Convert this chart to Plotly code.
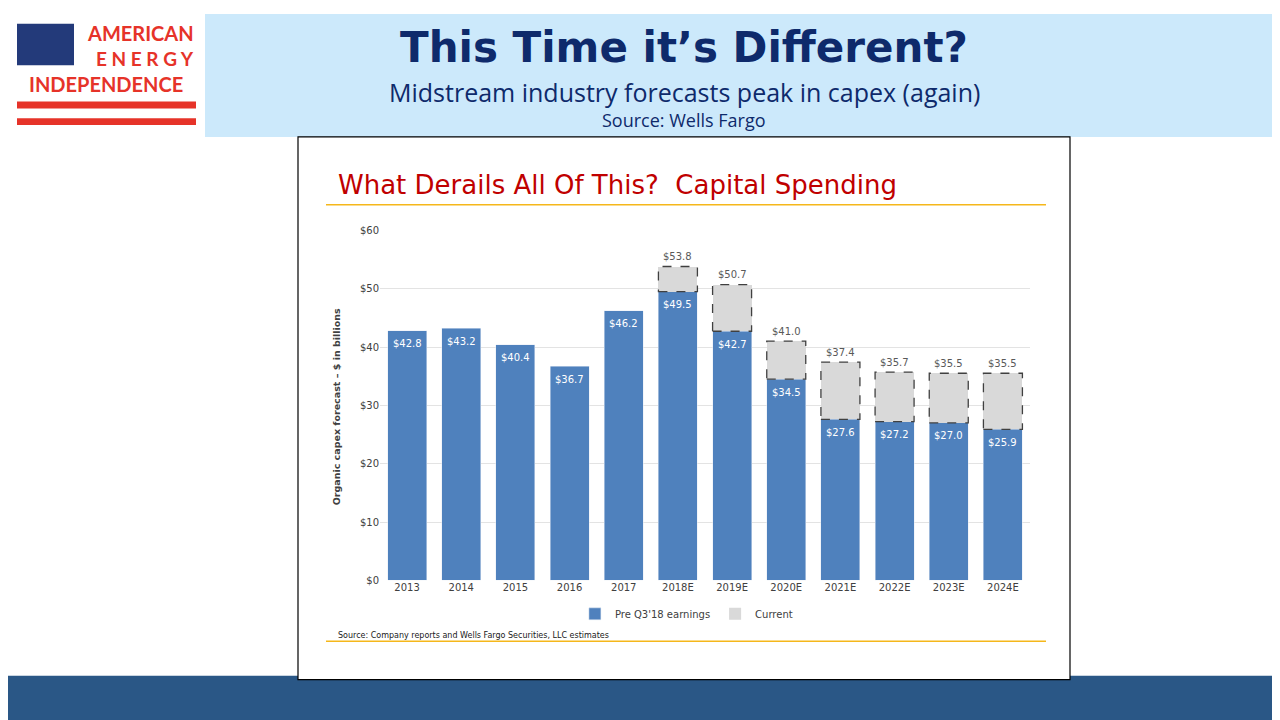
import plotly.graph_objects as go

years = ["2013", "2014", "2015", "2016", "2017", "2018E", "2019E", "2020E",
         "2021E", "2022E", "2023E", "2024E"]
pre_q3 = [42.8, 43.2, 40.4, 36.7, 46.2, 49.5, 42.7, 34.5, 27.6, 27.2, 27.0, 25.9]
current = [None, None, None, None, None, 53.8, 50.7, 41.0, 37.4, 35.7, 35.5, 35.5]
y_ticks = [0, 10, 20, 30, 40, 50, 60]

W, H = 1280, 720
def px(x): return x / W
def py(y): return 1 - y / H

idx = list(range(len(years)))
extra = [(c - p) if c is not None else 0 for c, p in zip(current, pre_q3)]
blue = "#4F81BD"

fig = go.Figure()
fig.add_trace(go.Bar(
    x=idx, y=pre_q3, name="Pre Q3'18 earnings", marker_color=blue, width=0.72, hoverinfo="y"))
fig.add_trace(go.Bar(
    x=idx, y=extra, name="Current", marker_color="#D9D9D9", width=0.72,
    marker_line_width=0, hoverinfo="skip"))
for i, v in enumerate(pre_q3):
    fig.add_annotation(x=i, y=v, yshift=-13, text="$%.1f" % v, showarrow=False,
                       font=dict(color="white", size=10, family="Verdana, DejaVu Sans"))
for i, (c, p) in enumerate(zip(current, pre_q3)):
    if c is None:
        continue
    fig.add_shape(type="rect", xref="x", yref="y", x0=i - 0.36, x1=i + 0.36, y0=p, y1=c,
                  line=dict(color="#404040", width=1.3, dash="dash"))
    fig.add_annotation(x=i, y=c, yshift=10, text="$%.1f" % c, showarrow=False,
                       font=dict(color="#595959", size=10, family="Verdana, DejaVu Sans"))

fig.update_layout(
    width=W, height=H, margin=dict(l=0, r=0, t=0, b=0), barmode="stack",
    paper_bgcolor="white", plot_bgcolor="rgba(0,0,0,0)",
    xaxis=dict(domain=[px(372), px(1022)], tickvals=idx, ticktext=years, range=[-0.5, 11.5],
               tickfont=dict(size=10, color="#404040", family="Verdana, DejaVu Sans"),
               showgrid=False, zeroline=False, showline=False, fixedrange=True),
    yaxis=dict(domain=[py(576), py(220)], range=[0, 60], tickvals=y_ticks,
               ticktext=["$%d" % v for v in y_ticks], gridcolor="#E3E3E3",
               tickfont=dict(size=10, color="#404040", family="Verdana, DejaVu Sans"),
               zeroline=False, showline=False, fixedrange=True),
    legend=dict(orientation="h", x=0.53, xanchor="center", y=py(610), yanchor="middle",
                traceorder="normal",
                font=dict(size=10, color="#404040", family="Verdana, DejaVu Sans"),
                bgcolor="rgba(0,0,0,0)"),
    showlegend=True,
)

shapes = [
    dict(type="rect", x0=px(197), x1=1, y0=py(125), y1=1, fillcolor="#CCE9FB", line_width=0, layer="below"),
    dict(type="rect", x0=0, x1=1, y0=0, y1=py(673), fillcolor="#2A5786", line_width=0, layer="below"),
    dict(type="rect", x0=px(290), x1=px(1062), y0=py(677), y1=py(125), fillcolor="white",
         line=dict(color="black", width=1.2), layer="below"),
    dict(type="line", x0=px(318), x1=px(1038), y0=py(194), y1=py(194), line=dict(color="#F5B71B", width=1.5)),
    dict(type="line", x0=px(318), x1=px(1038), y0=py(638), y1=py(638), line=dict(color="#F5B71B", width=1.5)),
    dict(type="rect", x0=px(9), x1=px(66), y0=py(52), y1=py(10), fillcolor="#233A7A", line_width=0),
    dict(type="rect", x0=px(9), x1=px(188), y0=py(96), y1=py(89), fillcolor="#E63329", line_width=0),
    dict(type="rect", x0=px(9), x1=px(188), y0=py(113), y1=py(106), fillcolor="#E63329", line_width=0),
]
for s in shapes:
    s.setdefault("xref", "paper")
    s.setdefault("yref", "paper")
    fig.add_shape(**s)

# stars on flag
star_x, star_y = [], []
for r in range(7):
    for c in range(8 if r % 2 == 0 else 7):
        star_x.append(px(13 + c * 7 + (3.5 if r % 2 else 0)))
        star_y.append(py(14 + r * 5.5))
fig.add_trace(go.Scatter(x=star_x, y=star_y, xaxis="x2", yaxis="y2", mode="markers",
                         marker=dict(color="white", size=2.5), showlegend=False, hoverinfo="skip"))
fig.update_layout(xaxis2=dict(domain=[0, 1], range=[0, 1], visible=False, fixedrange=True),
                  yaxis2=dict(domain=[0, 1], range=[0, 1], visible=False, fixedrange=True, anchor="x2"))

def text(x, y, s, size, color, family="Open Sans, DejaVu Sans", anchor="center", **kw):
    fig.add_annotation(xref="paper", yref="paper", x=px(x), y=py(y), text=s, showarrow=False,
                       xanchor=anchor, yanchor="middle", font=dict(size=size, color=color, family=family), **kw)

red = "#E63329"
text(188, 19, "<b>AMERICAN</b>", 20, red, "Lato, DejaVu Sans", anchor="right")
text(188, 45, "<b>E N E R G Y</b>", 19, red, "Lato, DejaVu Sans", anchor="right")
text(98, 71, "<b>INDEPENDENCE</b>", 20, red, "Lato, DejaVu Sans")
text(676, 34, "<b>This Time it’s Different?</b>", 42, "#0E2A6B", "Verdana, DejaVu Sans")
text(676, 79, "Midstream industry forecasts peak in capex (again)", 25, "#0E2A6B", "Open Sans, DejaVu Sans")
text(676, 108, "Source: Wells Fargo", 18, "#0E2A6B", "Open Sans, DejaVu Sans")
text(328, 174, "What Derails All Of This?  Capital Spending", 26, "#C00000", "Verdana, DejaVu Sans", anchor="left")
text(328, 632, "Source: Company reports and Wells Fargo Securities, LLC estimates", 8, "#202020",
     "Verdana, DejaVu Sans", anchor="left")
text(328, 400, "<b>Organic capex forecast – $ in billions</b>", 9.5, "#404040", "Verdana, DejaVu Sans",
     textangle=-90)

fig.write_html("out.html")
